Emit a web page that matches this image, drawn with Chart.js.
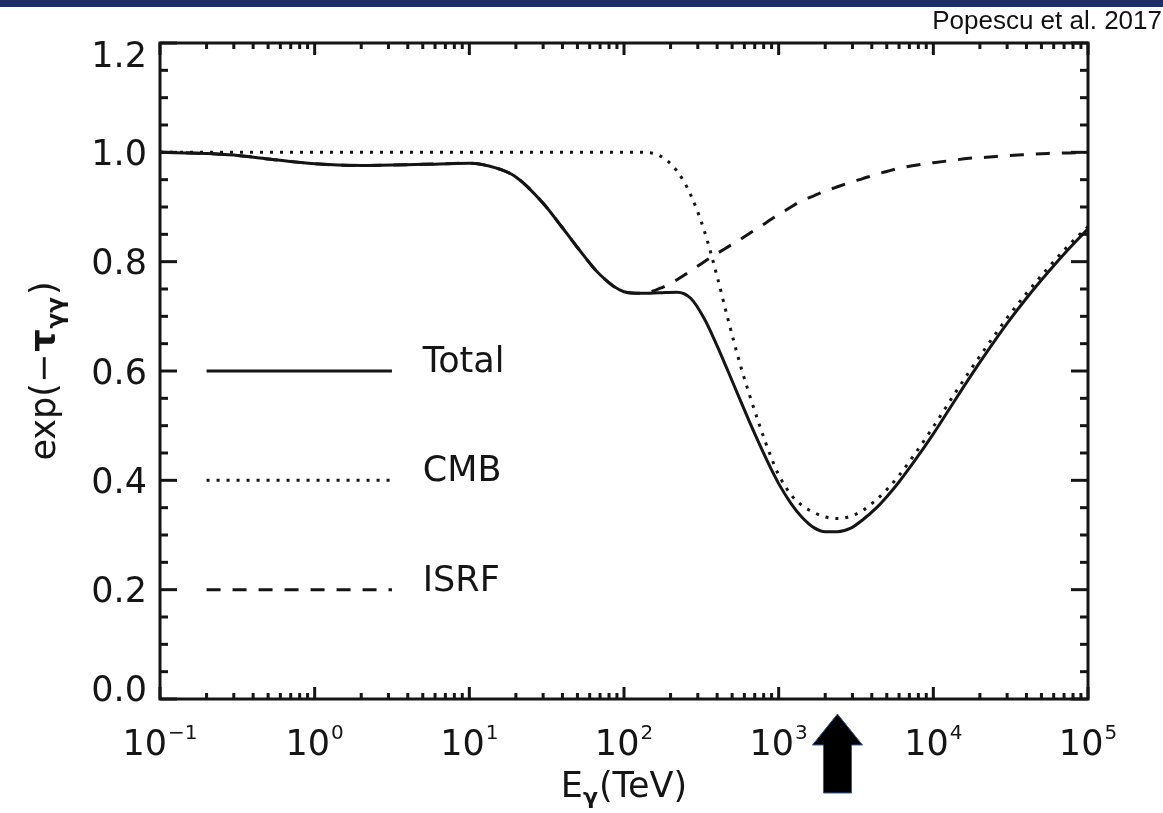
<!DOCTYPE html>
<html>
<head>
<meta charset="utf-8">
<script src="https://cdn.jsdelivr.net/npm/chart.js@4.4.1/dist/chart.umd.min.js"></script>
<style>
html, body { margin: 0; padding: 0; background: #fff; }
#wrap { position: relative; width: 1163px; height: 813px; overflow: hidden; }
#topBar { position: absolute; left: 0; top: 0; width: 1163px; height: 7px; background: #1f2d67; }
#cite { position: absolute; right: 1px; top: 7px; font-family: "Liberation Sans", Arial, sans-serif; font-size: 26px; line-height: 26px; color: #111; }
#plot { position: absolute; left: 0; top: 0; }
</style>
</head>
<body>
<div id="wrap">
  <canvas id="plot" width="1163" height="813"></canvas>
  <div id="topBar"></div>
  <div id="cite">Popescu et al. 2017</div>
</div>
<script>
// photon energy (TeV) and attenuation factors
const energy = [0.1, 0.2, 0.3, 0.5, 1, 2, 5, 10, 15, 20, 30, 40, 50, 70, 100,
  130, 170, 220, 270, 330, 400, 470, 560, 650, 760, 900, 1000, 1200, 1400, 1700,
  2000, 2400, 2900, 3500, 4300, 5000, 6000, 7500, 10000, 13000, 17000, 22000,
  30000, 40000, 55000, 75000, 100000];

const totalVals = [1.0, 0.998, 0.995, 0.988, 0.979, 0.976, 0.978, 0.980, 0.971, 0.955,
  0.907, 0.862, 0.826, 0.776, 0.745, 0.742, 0.743, 0.744, 0.733, 0.696,
  0.646, 0.600, 0.549, 0.506, 0.463, 0.419, 0.394, 0.358, 0.334, 0.313,
  0.306, 0.306, 0.312, 0.328, 0.350, 0.370, 0.397, 0.434, 0.485, 0.535,
  0.586, 0.633, 0.687, 0.733, 0.780, 0.823, 0.860];

const cmbVals = [1, 1, 1, 1, 1, 1, 1, 1, 1, 1, 1, 1, 1, 1, 1,
  1.0, 0.994, 0.966, 0.922, 0.857, 0.773, 0.695, 0.615, 0.555, 0.497,
  0.440, 0.410, 0.374, 0.355, 0.341, 0.333, 0.330, 0.334, 0.345, 0.365,
  0.383, 0.409, 0.446, 0.498, 0.548, 0.598, 0.644, 0.697, 0.742, 0.788,
  0.830, 0.864];

const isrfVals = [1.0, 0.998, 0.995, 0.988, 0.979, 0.976, 0.978, 0.980, 0.971, 0.955,
  0.907, 0.862, 0.826, 0.776, 0.745, 0.742, 0.751, 0.767, 0.783, 0.800,
  0.815, 0.827, 0.840, 0.852, 0.864, 0.878, 0.886, 0.900, 0.911, 0.921,
  0.929, 0.937, 0.945, 0.952, 0.960, 0.965, 0.971, 0.976, 0.981, 0.985,
  0.989, 0.991, 0.994, 0.996, 0.998, 0.999, 1.0];

const yTicks = [0, 0.2, 0.4, 0.6, 0.8, 1.0, 1.2];
const xDecades = [-1, 0, 1, 2, 3, 4, 5];
const legendNames = ["Total", "CMB", "ISRF"];
const legendLevels = [0.6, 0.4, 0.2];
const legendLineE = [0.2, 3.16];
const legendTextE = 5;
const arrowEnergy = 2400;

const dashes = [[], [3, 7], [14, 12]];
const INK = "#151515";
const FONT = '"DejaVu Sans", sans-serif';

function pts(vals) {
  return energy.map((e, i) => ({ x: e, y: vals[i] }));
}

function drawPieces(ctx, pieces, cx, baseY) {
  let total = 0;
  pieces.forEach(p => { ctx.font = p.f; p.w = ctx.measureText(p.t).width; total += p.w + (p.gap || 0); });
  let x = cx - total / 2;
  pieces.forEach(p => {
    ctx.font = p.f;
    ctx.fillText(p.t, x, baseY + (p.dy || 0));
    x += p.w + (p.gap || 0);
  });
}

const idlAxes = {
  id: "idlAxes",
  afterDraw(chart) {
    const { ctx, chartArea: a } = chart;
    const xs = chart.scales.x, ys = chart.scales.y;
    ctx.save();
    ctx.strokeStyle = INK;
    ctx.fillStyle = INK;
    ctx.lineWidth = 3;
    ctx.lineCap = "butt";
    ctx.setLineDash([]);
    ctx.strokeRect(a.left, a.top, a.right - a.left, a.bottom - a.top);

    const line = (x1, y1, x2, y2) => { ctx.beginPath(); ctx.moveTo(x1, y1); ctx.lineTo(x2, y2); ctx.stroke(); };

    // x ticks (bottom and top), log minors
    for (let k = 0; k < xDecades.length; k++) {
      const d = xDecades[k];
      const px = xs.getPixelForValue(Math.pow(10, d));
      line(px, a.bottom, px, a.bottom - 12);
      line(px, a.top, px, a.top + 12);
      if (k < xDecades.length - 1) {
        for (let m = 2; m <= 9; m++) {
          const mx = xs.getPixelForValue(m * Math.pow(10, d));
          line(mx, a.bottom, mx, a.bottom - 6);
          line(mx, a.top, mx, a.top + 6);
        }
      }
    }
    // y ticks (left and right), minors every 0.05
    for (let v = 0; v <= 1.2001; v += 0.05) {
      const py = ys.getPixelForValue(v);
      const major = Math.abs(v / 0.2 - Math.round(v / 0.2)) < 1e-6;
      const len = major ? 17 : 8;
      line(a.left, py, a.left + len, py);
      line(a.right, py, a.right - len, py);
    }

    // y tick labels
    ctx.font = "35px " + FONT;
    ctx.textAlign = "right";
    ctx.textBaseline = "alphabetic";
    yTicks.forEach(v => {
      let cy = ys.getPixelForValue(v);
      cy = Math.min(Math.max(cy, a.top + 11), a.bottom - 11);
      ctx.fillText(v.toFixed(1), a.left - 13, cy + 12.5);
    });

    // x tick labels 10^n
    ctx.textAlign = "left";
    xDecades.forEach(d => {
      const px = xs.getPixelForValue(Math.pow(10, d));
      const expo = d < 0 ? "\u2212" + Math.abs(d) : String(d);
      ctx.font = "35px " + FONT;
      const w1 = ctx.measureText("10").width;
      ctx.font = "20px " + FONT;
      const w2 = ctx.measureText(expo).width;
      const x0 = px - (w1 + w2 + 1) / 2;
      ctx.font = "35px " + FONT;
      ctx.fillText("10", x0, a.bottom + 56);
      ctx.font = "20px " + FONT;
      ctx.fillText(expo, x0 + w1 + 1, a.bottom + 40);
    });

    // axis titles
    drawPieces(ctx, [
      { t: "E", f: "35px " + FONT },
      { t: "\u03b3", f: "bold 22px " + FONT, dy: 7, gap: 1 },
      { t: "(TeV)", f: "35px " + FONT }
    ], (a.left + a.right) / 2, a.bottom + 98);

    ctx.save();
    ctx.translate(a.left - 105, (a.top + a.bottom) / 2);
    ctx.rotate(-Math.PI / 2);
    drawPieces(ctx, [
      { t: "exp(\u2212", f: "35px " + FONT, gap: 2 },
      { t: "\u03c4", f: "bold 35px " + FONT, gap: 1 },
      { t: "\u03b3\u03b3", f: "bold 23px " + FONT, dy: 8, gap: 2 },
      { t: ")", f: "35px " + FONT }
    ], 0, 0);
    ctx.restore();

    // legend inside the plot
    const lx1 = xs.getPixelForValue(legendLineE[0]);
    const lx2 = xs.getPixelForValue(legendLineE[1]);
    const tx = xs.getPixelForValue(legendTextE);
    legendNames.forEach((name, i) => {
      const ly = ys.getPixelForValue(legendLevels[i]);
      ctx.setLineDash(dashes[i]);
      line(lx1, ly, lx2, ly);
      ctx.setLineDash([]);
      ctx.font = "35px " + FONT;
      ctx.fillText(name, tx, ly + 1);
    });

    // arrow marking the energy of the minimum
    const ax = xs.getPixelForValue(arrowEnergy);
    const top = a.bottom + 15;
    ctx.beginPath();
    ctx.moveTo(ax, top);
    ctx.lineTo(ax + 25, top + 31);
    ctx.lineTo(ax + 14, top + 31);
    ctx.lineTo(ax + 14, top + 79);
    ctx.lineTo(ax - 14, top + 79);
    ctx.lineTo(ax - 14, top + 31);
    ctx.lineTo(ax - 25, top + 31);
    ctx.closePath();
    ctx.fillStyle = "#000";
    ctx.fill();
    ctx.strokeStyle = "#3a5a9a";
    ctx.lineWidth = 1;
    ctx.stroke();
    ctx.restore();
  }
};

const common = { borderColor: INK, borderWidth: 3, pointRadius: 0, fill: false,
  cubicInterpolationMode: "monotone", borderCapStyle: "butt" };

new Chart(document.getElementById("plot"), {
  type: "line",
  data: {
    datasets: [
      Object.assign({ label: "Total", data: pts(totalVals), borderDash: dashes[0] }, common),
      Object.assign({ label: "CMB", data: pts(cmbVals), borderDash: dashes[1] }, common),
      Object.assign({ label: "ISRF", data: pts(isrfVals), borderDash: dashes[2] }, common)
    ]
  },
  options: {
    responsive: false,
    animation: false,
    devicePixelRatio: 1,
    layout: { padding: { left: 160, top: 43, right: 75, bottom: 114 } },
    plugins: { legend: { display: false }, tooltip: { enabled: false } },
    scales: {
      x: { type: "logarithmic", min: 0.1, max: 100000, display: false },
      y: { type: "linear", min: 0, max: 1.2, display: false }
    }
  },
  plugins: [idlAxes]
});
</script>
</body>
</html>
